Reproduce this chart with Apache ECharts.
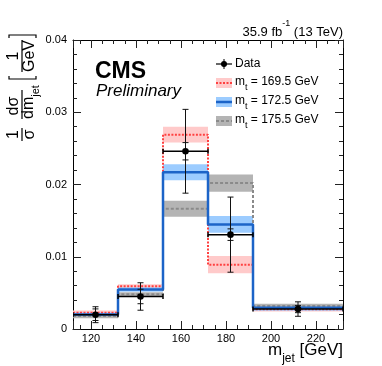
<!DOCTYPE html>
<html><head><meta charset="utf-8">
<script src="https://cdn.jsdelivr.net/npm/echarts@6/dist/echarts.min.js"></script>
<style>html,body{margin:0;padding:0;background:#fff}#c{width:382px;height:366px}</style>
</head><body><div id="c"></div>
<script>
// ---- data ----
const binEdges = [112, 132, 152, 172, 192, 232];
const mt1695 = [0.00225, 0.0059, 0.0269, 0.0089, 0.00272];
const mt1695Unc = [0.0003, 0.0003, 0.0011, 0.0012, 0.0003];
const mt1725 = [0.0020, 0.00547, 0.0217, 0.01448, 0.00294];
const mt1725Unc = [0.0003, 0.0003, 0.0011, 0.00115, 0.0004];
const mt1755 = [0.0018, 0.0048, 0.01664, 0.0202, 0.0032];
const mt1755Unc = [0.0003, 0.0003, 0.0011, 0.0012, 0.0003];
const dataX = [122, 142, 162, 182, 212];
const dataY = [0.00198, 0.0045, 0.0246, 0.01306, 0.00276];
const dataTotErr = [0.0011, 0.0019, 0.0058, 0.0052, 0.0010];
const dataStatErr = [0.0008, 0.0010, 0.0012, 0.0008, 0.0005];
const legendLabels = ['169.5 GeV', '172.5 GeV', '175.5 GeV'];

const FONT = "'Liberation Sans', Arial, Helvetica, sans-serif";
const C_RED = '#ff4040', C_RED_BAND = '#ffcaca';
const C_BLUE = '#1c64c8', C_BLUE_BAND = '#9cccff';
const C_GRAY = '#8a8a8a', C_GRAY_BAND = '#b4b4b4';

function stepData(vals) {
  const d = vals.map((v, i) => [binEdges[i], v]);
  d.push([binEdges[binEdges.length - 1], vals[vals.length - 1]]);
  return d;
}
function bandData(vals, unc) {
  return vals.map((v, i) => [binEdges[i], binEdges[i + 1], v - unc[i], v + unc[i]]);
}
function bandSeries(vals, unc, color) {
  return {
    type: 'custom', clip: true, silent: true,
    data: bandData(vals, unc),
    encode: { x: [0, 1], y: [2, 3] },
    renderItem: function (params, api) {
      const p0 = api.coord([api.value(0), api.value(3)]);
      const p1 = api.coord([api.value(1), api.value(2)]);
      return { type: 'rect', shape: { x: p0[0], y: p0[1], width: p1[0] - p0[0], height: p1[1] - p0[1] }, style: { fill: color } };
    }
  };
}
function stepSeries(vals, color, width, type) {
  return {
    type: 'line', step: 'end', symbol: 'none', silent: true,
    data: stepData(vals),
    lineStyle: { color: color, width: width, type: type },
    z: 3
  };
}
const dataItems = dataX.map((x, i) => {
  const b = binEdges.findIndex((e, k) => x >= e && x < binEdges[k + 1]);
  return [x, dataY[i], binEdges[b], binEdges[b + 1], dataTotErr[i], dataStatErr[i]];
});

const tickCommon = {
  axisLine: { show: true, onZero: false, lineStyle: { color: '#000', width: 1 } },
  axisTick: { show: true, inside: true, length: 8, lineStyle: { color: '#222', width: 1 } },
  splitLine: { show: false },
  minorSplitLine: { show: false }
};
const labelStyle = { color: '#000', fontSize: 11, fontFamily: FONT };

const chart = echarts.init(document.getElementById('c'), null, { renderer: 'canvas' });
const option = {
  animation: false,
  backgroundColor: '#fff',
  grid: { left: 73, right: 39, top: 40, bottom: 37, containLabel: false },
  xAxis: [
    Object.assign({ type: 'value', min: 112, max: 232, position: 'bottom',
      minorTick: { show: true, splitNumber: 4, length: 4, lineStyle: { color: '#222' } },
      axisLabel: Object.assign({ showMinLabel: false, showMaxLabel: false, margin: 4 }, labelStyle) }, tickCommon),
    Object.assign({ type: 'value', min: 112, max: 232, position: 'top',
      minorTick: { show: true, splitNumber: 4, length: 4, lineStyle: { color: '#222' } },
      axisLabel: { show: false } }, tickCommon)
  ],
  yAxis: [
    Object.assign({ type: 'value', min: 0, max: 0.04, interval: 0.01, position: 'left',
      minorTick: { show: true, splitNumber: 5, length: 4, lineStyle: { color: '#222' } },
      axisLabel: Object.assign({ margin: 6 }, labelStyle) }, tickCommon),
    Object.assign({ type: 'value', min: 0, max: 0.04, interval: 0.01, position: 'right',
      minorTick: { show: true, splitNumber: 5, length: 4, lineStyle: { color: '#222' } },
      axisLabel: { show: false } }, tickCommon)
  ],
  series: [
    bandSeries(mt1695, mt1695Unc, C_RED_BAND),
    bandSeries(mt1725, mt1725Unc, C_BLUE_BAND),
    bandSeries(mt1755, mt1755Unc, C_GRAY_BAND),
    stepSeries(mt1695, C_RED, 2, [2, 1.5]),
    stepSeries(mt1755, C_GRAY, 2, [3, 2]),
    stepSeries(mt1725, C_BLUE, 2.5, 'solid'),
    {
      type: 'custom', clip: true, silent: true, z: 5,
      data: dataItems,
      encode: { x: 0, y: 1 },
      renderItem: function (params, api) {
        const x = api.value(0), y = api.value(1);
        const tot = api.value(4), st = api.value(5);
        const c = api.coord([x, y]);
        const l = api.coord([api.value(2), y]);
        const r = api.coord([api.value(3), y]);
        const tTop = api.coord([x, y + tot])[1], tBot = api.coord([x, y - tot])[1];
        const sTop = api.coord([x, y + st])[1], sBot = api.coord([x, y - st])[1];
        const ls = { stroke: '#111', lineWidth: 1 };
        const hs = { stroke: '#000', lineWidth: 1.5 };
        const cap = 3;
        return { type: 'group', children: [
          { type: 'line', shape: { x1: l[0], y1: c[1], x2: r[0], y2: c[1] }, style: hs },
          { type: 'line', shape: { x1: l[0], y1: c[1] - 2.5, x2: l[0], y2: c[1] + 2.5 }, style: hs },
          { type: 'line', shape: { x1: r[0], y1: c[1] - 2.5, x2: r[0], y2: c[1] + 2.5 }, style: hs },
          { type: 'line', shape: { x1: c[0], y1: tTop, x2: c[0], y2: tBot }, style: ls },
          { type: 'line', shape: { x1: c[0] - cap, y1: tTop, x2: c[0] + cap, y2: tTop }, style: ls },
          { type: 'line', shape: { x1: c[0] - cap, y1: tBot, x2: c[0] + cap, y2: tBot }, style: ls },
          { type: 'line', shape: { x1: c[0] - cap, y1: sTop, x2: c[0] + cap, y2: sTop }, style: ls },
          { type: 'line', shape: { x1: c[0] - cap, y1: sBot, x2: c[0] + cap, y2: sBot }, style: ls },
          { type: 'circle', shape: { cx: c[0], cy: c[1], r: 3.3 }, style: { fill: '#000' } }
        ] };
      }
    }
  ],
  graphic: []
};

// ---- annotations ----
const g = [];
function subText(x, yCenter, main, sub, rest, fs, sfs, align) {
  const mainLH = Math.round(fs * 1.15);
  const subLH = mainLH + Math.round(fs * 0.85);
  return {
    type: 'text', x: x, y: yCenter - mainLH / 2, z: 50,
    style: {
      text: '{m|' + main + '}{s|' + sub + '}{m|' + rest + '}',
      align: align || 'left', verticalAlign: 'top',
      rich: {
        m: { fontSize: fs, fontFamily: FONT, fill: '#000', lineHeight: mainLH, verticalAlign: 'top' },
        s: { fontSize: sfs, fontFamily: FONT, fill: '#000', lineHeight: subLH, verticalAlign: 'middle' }
      }
    }
  };
}
// top-right luminosity
g.push({
  type: 'text', x: 343, y: 29, z: 50,
  style: {
    text: '{m|35.9 fb}{p|-1}{m| (13 TeV)}', align: 'right', verticalAlign: 'middle',
    rich: {
      m: { fontSize: 13, fontFamily: FONT, fill: '#000', lineHeight: 20, verticalAlign: 'bottom' },
      p: { fontSize: 9, fontFamily: FONT, fill: '#000', lineHeight: 10, verticalAlign: 'top' }
    }
  }
});
// CMS Preliminary
g.push({ type: 'text', x: 95, y: 72, z: 50, style: { text: 'CMS', fontSize: 23, fontWeight: 'bold', fontFamily: FONT, fill: '#000', verticalAlign: 'middle' } });
g.push({ type: 'text', x: 96, y: 91, z: 50, style: { text: 'Preliminary', fontSize: 17, fontStyle: 'italic', fontFamily: FONT, fill: '#000', verticalAlign: 'middle' } });
// legend
const lx0 = 216, lx1 = 232, ltx = 235;
const rowY = [64, 83, 102, 121];
g.push({ type: 'line', z: 50, shape: { x1: lx0, y1: rowY[0], x2: lx1, y2: rowY[0] }, style: { stroke: '#000', lineWidth: 1.2 } });
g.push({ type: 'line', z: 50, shape: { x1: 224, y1: rowY[0] - 5, x2: 224, y2: rowY[0] + 5 }, style: { stroke: '#000', lineWidth: 1 } });
g.push({ type: 'circle', z: 51, shape: { cx: 224, cy: rowY[0], r: 3 }, style: { fill: '#000' } });
g.push({ type: 'text', x: ltx, y: rowY[0], z: 50, style: { text: 'Data', fontSize: 12, fontFamily: FONT, fill: '#000', verticalAlign: 'middle' } });
const legCols = [[C_RED_BAND, C_RED, [2, 1.5]], [C_BLUE_BAND, C_BLUE, 'solid'], [C_GRAY_BAND, C_GRAY, [3, 2]]];
legCols.forEach((c, i) => {
  const y = rowY[i + 1];
  g.push({ type: 'rect', z: 50, shape: { x: lx0, y: y - 5, width: lx1 - lx0, height: 10 }, style: { fill: c[0] } });
  g.push({ type: 'line', z: 51, shape: { x1: lx0, y1: y, x2: lx1, y2: y }, style: { stroke: c[1], lineWidth: i === 1 ? 2.5 : 2, lineDash: c[2] === 'solid' ? null : c[2] } });
  g.push(subText(ltx, y, 'm', 't', ' = ' + legendLabels[i], 12, 9));
});
// x axis title
g.push(subText(343, 352, 'm', 'jet', ' [GeV]', 17, 12, 'right'));
// y axis title (rotated group)
const yt = [];
const F = 16;
function t(lx, ly, s, opts) {
  return Object.assign({ type: 'text', x: lx, y: ly, style: Object.assign({ text: s, fontSize: F, fontFamily: FONT, fill: '#000', align: 'center', verticalAlign: 'middle' }, opts || {}) });
}
function ln(a, b, y) { return { type: 'line', shape: { x1: a, y1: y, x2: b, y2: y }, style: { stroke: '#000', lineWidth: 1.2 } }; }
yt.push(ln(1, 14, 0), t(7.5, -8, '1'), t(7.5, 8, 'σ'));
yt.push(ln(23, 52, 0), t(36, -8, 'dσ'));
yt.push({ type: 'text', x: 23, y: 8 - 9, style: { text: '{m|dm}{s|jet}', align: 'left', verticalAlign: 'top',
  rich: { m: { fontSize: F, fontFamily: FONT, fill: '#000', lineHeight: 18, verticalAlign: 'top' },
          s: { fontSize: 11, fontFamily: FONT, fill: '#000', lineHeight: 30, verticalAlign: 'middle' } } } });
yt.push({ type: 'polyline', shape: { points: [[66, -13], [63, -13], [63, 14], [66, 14]] }, style: { stroke: '#000', lineWidth: 1.2, fill: null } });
yt.push(ln(70, 102, 0), t(86, -8, '1'), t(86, 8, 'GeV'));
yt.push({ type: 'polyline', shape: { points: [[104, -13], [107, -13], [107, 14], [104, 14]] }, style: { stroke: '#000', lineWidth: 1.2, fill: null } });
g.push({ type: 'group', x: 22, y: 142, rotation: Math.PI / 2, z: 50, children: yt });

option.graphic = g;
chart.setOption(option);
</script>
</body></html>
